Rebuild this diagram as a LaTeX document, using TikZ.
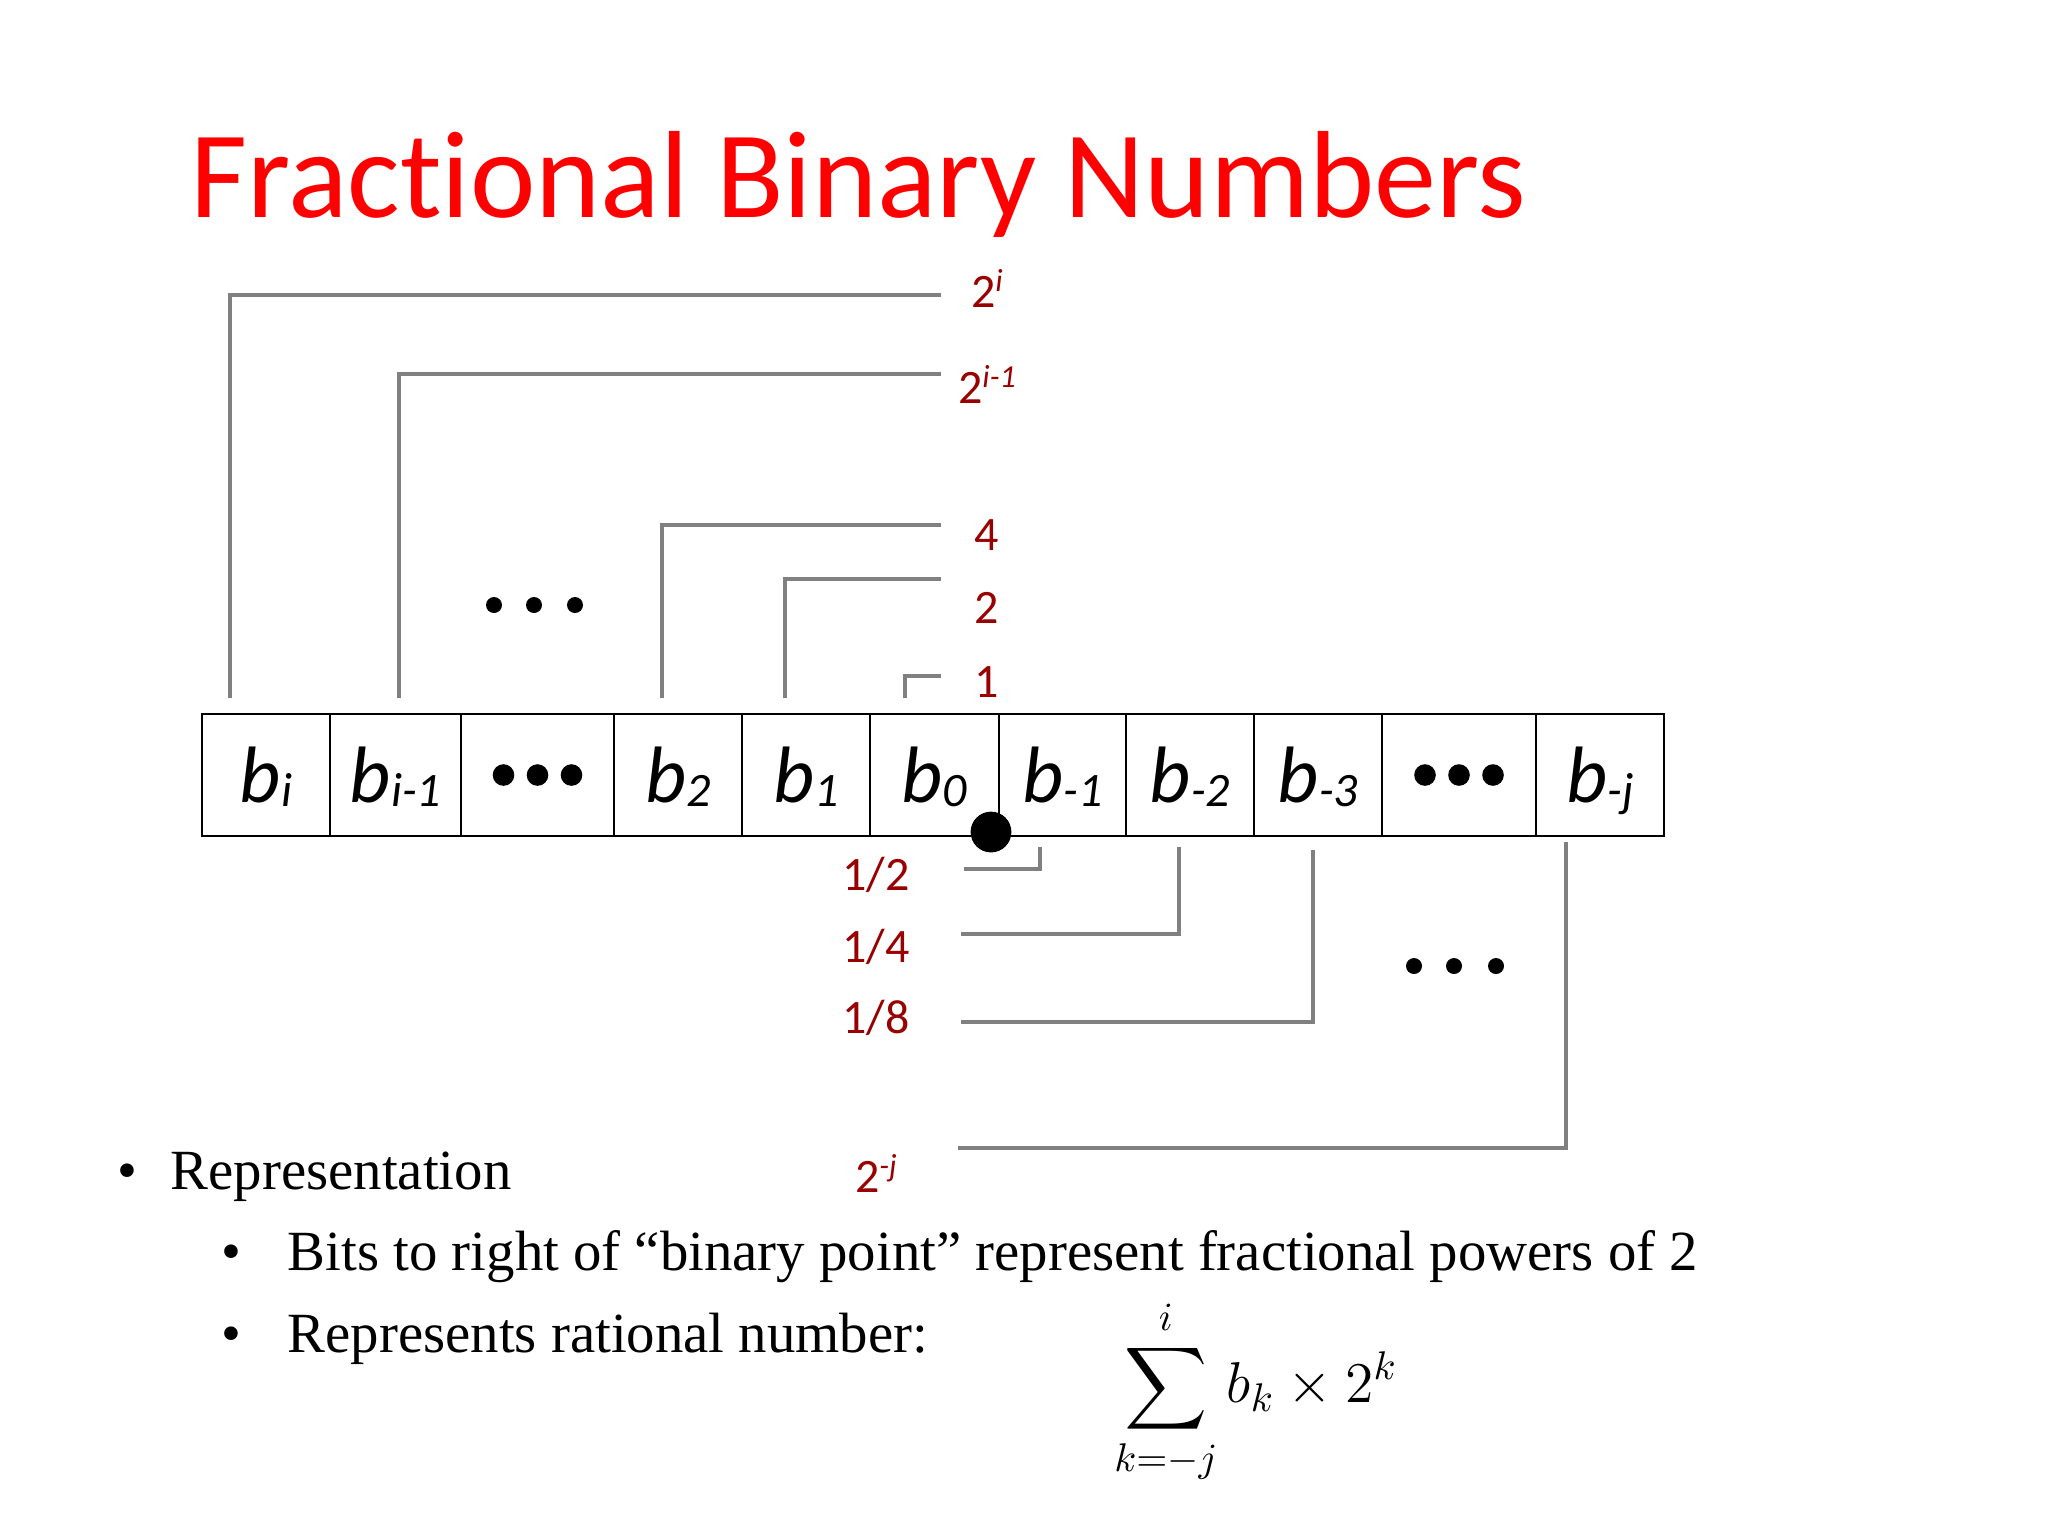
\documentclass[tikz,border=0pt]{standalone}
\usepackage{amsmath}
\usepackage{fontspec}
\setmainfont{Liberation Serif}
\newfontfamily\calibri[Ligatures=NoCommon]{Carlito}
\usepackage{xcolor}
\usepackage{tikz}
\usetikzlibrary{positioning}

\definecolor{titlered}{RGB}{255,0,0}
\definecolor{labelred}{RGB}{153,0,0}
\definecolor{wiregray}{RGB}{128,128,128}

\newcommand{\bsub}[1]{b\raisebox{-1.2pt}{\fontsize{12}{12}\selectfont #1}}
\newcommand{\upidx}[2]{#1\raisebox{4pt}{\fontsize{8}{8}\selectfont\itshape #2}}

\tikzset{
  cell/.style={draw, line width=0.6pt, minimum height=30.5pt, text height=15pt, text depth=1.5pt,
    font=\calibri\itshape\fontsize{20}{20}\selectfont},
  wire/.style={draw=wiregray, line width=1.15pt},
  weight/.style={text=labelred, font=\calibri\fontsize{12}{12}\selectfont, anchor=base},
  bullet/.style={font=\fontsize{14.2}{14.2}\selectfont, anchor=base},
  bullettext/.style={font=\fontsize{14.2}{14.2}\selectfont, anchor=base west},
}

\begin{document}
\begin{tikzpicture}[x=0.25pt,y=-0.25pt,inner sep=0pt]
\fill[white] (0,0) rectangle (2048,1536);
\useasboundingbox (0,0) rectangle (2048,1536);
% Title
\node[anchor=base west, text=titlered, font=\calibri\fontsize{31}{31}\selectfont] (title) at (190,217) {Fractional Binary Numbers};
% Bit cells
\foreach \n/\l/\r/\t in {bi/202/330/{\bsub{i}}, bim1/330/461/{\bsub{i-1}}, dl/461/614/{},
    b2/614/742/{\bsub{2}}, b1/742/870/{\bsub{1}}, b0/870/999/{\bsub{0}}, bm1/999/1126/{\bsub{-1}},
    bm2/1126/1254/{\bsub{-2}}, bm3/1254/1382/{\bsub{-3}}, dr/1382/1536/{}, bmj/1536/1664/{\bsub{-j}}}
  \node[cell, minimum width={(\r-\l)*0.25pt}] (\n) at ({(\l+\r)/2},775) {\t};
\foreach \d in {-34,0,34} {
  \fill ([xshift=\d*0.25pt]dl.center) circle (2.7pt);
  \fill ([xshift=\d*0.25pt]dr.center) circle (2.7pt);
}
% Binary point
\fill (991,832) circle (5.1pt);
% Weights of the integer bits
\foreach \n/\x/\y/\t/\b in {pi/230/295/{\upidx{2}{i}}/307, pim1/399/374/{\upidx{2}{i-1}}/403,
    p2/662/525/4/550, p1/785/579/2/623, p0/905/676/1/697} {
  \coordinate (s\n) at (\x,698);
  \coordinate (e\n) at (941,\y);
  \draw[wire] (s\n) |- (e\n);
  \node[weight] (\n) at (987,\b) {\t};
}
\foreach \x in {494,534,575}
  \fill (\x,605) circle (2pt);
% Weights of the fraction bits
\foreach \n/\x/\t/\b/\e/\lbl/\lb in {q1/1040/847/869/964/{1/2}/890, q2/1179/847/934/961/{1/4}/962,
    q3/1313/850/1022/961/{1/8}/1033, qj/1566/842/1148/958/{\upidx{2}{-j}}/1192} {
  \coordinate (s\n) at (\x,\t);
  \coordinate (e\n) at (\e,\b);
  \draw[wire] (s\n) |- (e\n);
  \node[weight] (\n) at (876,\lb) {\lbl};
}
\foreach \x in {1414,1454,1496}
  \fill (\x,966) circle (2pt);
% Bullets
\node[bullet] (rep-dot) at (127,1189) {\textbullet};
\node[bullettext] (rep) at (170,1189) {Representation};
\node[bullet] (bits-dot) at (231,1270) {\textbullet};
\node[bullettext] (bits) at (287,1270) {Bits to right of ``binary point'' represent fractional powers of 2};
\node[bullet] (rat-dot) at (231,1352) {\textbullet};
\node[bullettext] (rat) at (287,1352) {Represents rational number:};
\node (sum) at (1256,1392) {\fontsize{14.5}{14.5}\selectfont$\displaystyle\sum_{k=-j}^{i} b_k \times 2^k$};
\end{tikzpicture}
\end{document}
